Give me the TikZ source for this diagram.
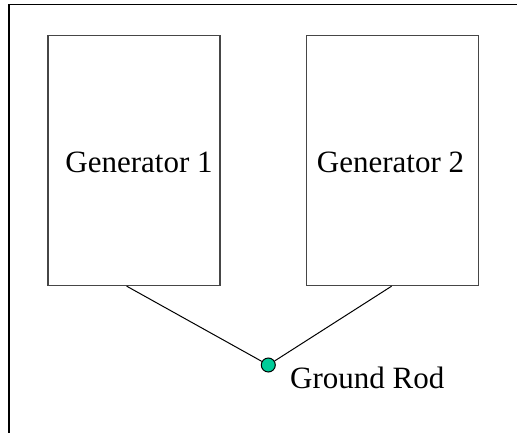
\documentclass[tikz,border=0pt]{standalone}
\usepackage{fontspec}
\setmainfont{Liberation Serif}
\usetikzlibrary{calc}
\definecolor{rodgreen}{RGB}{0,204,153}
\definecolor{boxgray}{RGB}{70,70,70}
\begin{document}
\begin{tikzpicture}[x=1pt,y=-1pt,
  genbox/.style={draw=boxgray,line width=1.3pt,minimum width=172pt,minimum height=250pt,inner sep=0pt},
  lbl/.style={font=\fontsize{31}{37}\selectfont,inner sep=0pt},
  wire/.style={draw=black,line width=1pt},
  rod/.style={circle,draw=black,line width=1pt,fill=rodgreen,minimum size=14pt,inner sep=0pt}]
\useasboundingbox (0,0) rectangle (517,433);
\draw[line width=1.5pt] (9,433) -- (9,4.5) -- (517,4.5);
\node[genbox] (g1) at (134,160.5) {};
\node[genbox] (g2) at (392.7,160.5) {};
\node[lbl,anchor=base] (t1) at (139,172) {Generator 1};
\node[lbl,anchor=base] (t2) at (390.5,172) {Generator 2};
\node[rod] (r) at (268.3,365) {};
\node[lbl,anchor=base west] (tr) at (290,388) {Ground Rod};
\draw[wire] ($(g1.south west)!0.4576!(g1.south east)$) -- (r);
\draw[wire] ($(g2.south west)!0.494!(g2.south east)$) -- (r);
\end{tikzpicture}
\end{document}
